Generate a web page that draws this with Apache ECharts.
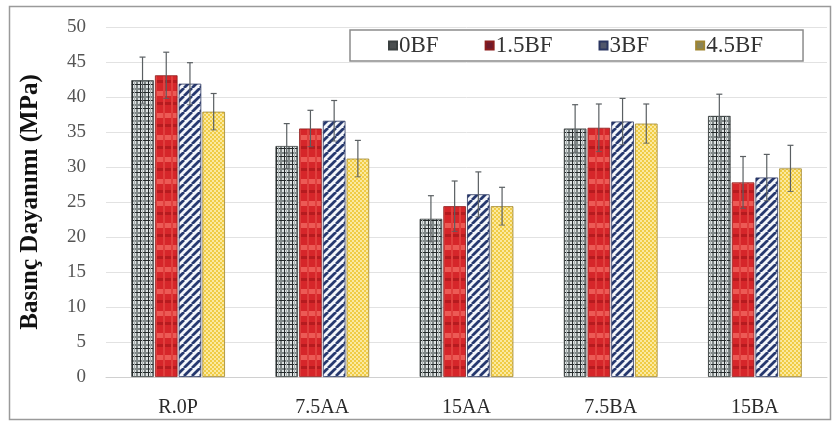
<!DOCTYPE html>
<html><head><meta charset="utf-8">
<script src="https://cdn.jsdelivr.net/npm/echarts@6/dist/echarts.min.js"></script>
<style>html,body{margin:0;padding:0;background:#fff}#c{width:834px;height:421px}</style>
</head><body><div id="c"></div>
<script>
const categories = ['R.0P', '7.5AA', '15AA', '7.5BA', '15BA'];
const seriesNames = ['0BF', '1.5BF', '3BF', '4.5BF'];
const v0BF  = [42.4, 33.0, 22.6, 35.5, 37.3];
const v15BF = [43.1, 35.5, 24.4, 35.6, 27.8];
const v3BF  = [41.9, 36.6, 26.1, 36.5, 28.5];
const v45BF = [37.9, 31.2, 24.4, 36.2, 29.8];
const e0BF  = [3.3, 3.2, 3.3, 3.4, 3.1];
const e15BF = [3.3, 2.6, 3.6, 3.4, 3.7];
const e3BF  = [3.0, 2.9, 3.2, 3.3, 3.3];
const e45BF = [2.6, 2.6, 2.7, 2.8, 3.3];
const yTicks = [0, 5, 10, 15, 20, 25, 30, 35, 40, 45, 50];

const values = [v0BF, v15BF, v3BF, v45BF];
const errors = [e0BF, e15BF, e3BF, e45BF];

function tile(w, h, draw) {
  const c = document.createElement('canvas'); c.width = w; c.height = h;
  draw(c.getContext('2d')); return c;
}
const patPlaid = tile(8, 8, g => {
  g.fillStyle = '#dfe4e4'; g.fillRect(0,0,8,8);
  g.fillStyle = '#7e8686'; g.fillRect(0,0,2,8); g.fillRect(0,0,8,2);
  g.fillStyle = '#262b2c'; g.fillRect(4,0,1,8); g.fillRect(0,4,8,1);
  g.fillStyle = '#a9b0b0'; g.fillRect(6,0,1,8);
});
const patRed = tile(8, 22, g => {
  g.fillStyle = '#d6262a'; g.fillRect(0,0,8,22);
  g.fillStyle = '#ec5a55'; g.fillRect(0,3,8,5);
  g.fillStyle = '#b51b1f'; g.fillRect(0,14,8,3);
  g.fillStyle = '#e0403e'; g.fillRect(3,0,2,22);
});
const patStripe = tile(8, 8, g => {
  g.fillStyle = '#f4f6fa'; g.fillRect(0,0,8,8);
  g.strokeStyle = '#26386e'; g.lineWidth = 2.8;
  g.beginPath();
  for (let k = -8; k <= 16; k += 8) { g.moveTo(k, 8); g.lineTo(k + 8, 0); }
  g.stroke();
});
const patYellow = tile(4, 4, g => {
  g.fillStyle = '#f0cc45'; g.fillRect(0,0,4,4);
  g.fillStyle = '#fbe9a0'; g.fillRect(0,0,2,2); g.fillRect(2,2,2,2);
});
const patterns = [patPlaid, patRed, patStripe, patYellow];
const borderCols = ['#3a4040', '#8c1c1c', '#2a3560', '#a08530'];
const legendCols = ['#4a4f50', '#6e1a2c', '#50566a', '#8a8458'];

const CAT_GAP = 0.35, BAR_GAP = 0.05, N = 4;
const series = [];
for (let i = 0; i < N; i++) {
  series.push({
    name: seriesNames[i], type: 'bar', data: values[i],
    barCategoryGap: (CAT_GAP * 100) + '%', barGap: (BAR_GAP * 100) + '%',
    itemStyle: { color: { image: patterns[i], repeat: 'repeat' }, borderColor: borderCols[i], borderWidth: 0.8 },
    emphasis: { disabled: true }
  });
}
for (let i = 0; i < N; i++) {
  const data = values[i].map((v, k) => [k, v - errors[i][k], v + errors[i][k]]);
  series.push({
    type: 'custom', name: 'err' + i, data: data, z: 10, silent: true,
    renderItem: function (params, api) {
      const cat = api.value(0);
      const lo = api.coord([cat, api.value(1)]);
      const hi = api.coord([cat, api.value(2)]);
      const band = api.size([1, 0])[0];
      const bw = band * (1 - CAT_GAP) / (N + (N - 1) * BAR_GAP);
      const total = bw * N + bw * BAR_GAP * (N - 1);
      const x = lo[0] - total / 2 + i * bw * (1 + BAR_GAP) + bw / 2;
      const cap = 3;
      const st = { stroke: '#5a5f62', lineWidth: 1.2 };
      return { type: 'group', children: [
        { type: 'line', shape: { x1: x, y1: lo[1], x2: x, y2: hi[1] }, style: st },
        { type: 'line', shape: { x1: x - cap, y1: hi[1], x2: x + cap, y2: hi[1] }, style: st },
        { type: 'line', shape: { x1: x - cap, y1: lo[1], x2: x + cap, y2: lo[1] }, style: { stroke: '#5a5f62', lineWidth: 0.8 } }
      ]};
    }
  });
}

const chart = echarts.init(document.getElementById('c'), null, { renderer: 'canvas' });
chart.setOption({
  animation: false,
  backgroundColor: '#ffffff',
  textStyle: { fontFamily: 'Liberation Serif' },
  grid: { left: 106, right: 7, top: 27, bottom: 44 },
  legend: {
    data: seriesNames.map((n, i) => ({ name: n, itemStyle: { color: legendCols[i] } })),
    left: 350, top: 30,
    padding: [4, 40, 4, 38], itemGap: 46,
    itemWidth: 8, itemHeight: 8, icon: 'rect',
    borderColor: '#8c8c8c', borderWidth: 1.5, backgroundColor: '#ffffff',
    textStyle: { fontFamily: 'Liberation Serif', fontSize: 23, color: '#333', padding: [0, 0, 0, -3] }
  },
  xAxis: {
    type: 'category', data: categories,
    axisLine: { lineStyle: { color: '#d0d0d0', width: 1 } },
    axisTick: { show: false },
    axisLabel: { fontFamily: 'Liberation Serif', fontSize: 20, color: '#2a2a2a', margin: 21 }
  },
  yAxis: {
    type: 'value', min: yTicks[0], max: yTicks[yTicks.length - 1], interval: yTicks[1] - yTicks[0],
    name: 'Basınç Dayanımı (MPa)', nameLocation: 'middle', nameGap: 63, nameRotate: 90,
    nameTextStyle: { fontFamily: 'Liberation Serif', fontSize: 25, fontWeight: 'bold', color: '#111', padding: [0, 0, 0, 0] },
    axisLine: { show: false }, axisTick: { show: false },
    axisLabel: { fontFamily: 'Liberation Serif', fontSize: 19, color: '#555', margin: 20 },
    splitLine: { lineStyle: { color: '#e2e2e2', width: 1 } }
  },
  graphic: [{
    type: 'rect', left: 7, top: 4, silent: true, z: -1,
    shape: { width: 821, height: 413 },
    style: { fill: 'none', stroke: '#9a9a9a', lineWidth: 1.5 }
  }],
  series: series
});
</script></body></html>
